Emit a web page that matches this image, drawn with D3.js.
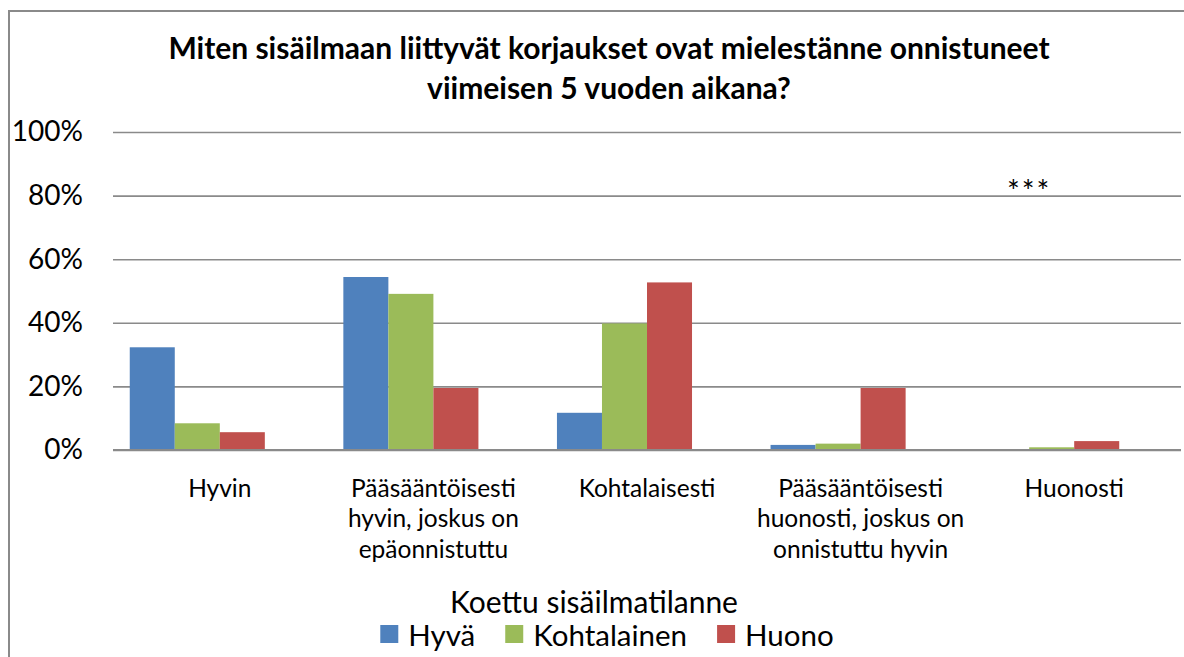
<!DOCTYPE html>
<html>
<head>
<meta charset="utf-8">
<script src="https://cdn.jsdelivr.net/npm/d3@7.9.0/dist/d3.min.js"></script>
<style>
    body { margin: 0; background: #fff; }
    text { font-family: Lato, "Open Sans", sans-serif; fill: #000; }
</style>
</head>
<body>
<div id="chart"></div>
<script>
// Data (shares, 0..1)
const categories = ["Hyvin", "Pääsääntöisesti hyvin, joskus on epäonnistuttu", "Kohtalaisesti",
    "Pääsääntöisesti huonosti, joskus on onnistuttu hyvin", "Huonosti"];
const categoryLines = [
    ["Hyvin"],
    ["Pääsääntöisesti", "hyvin, joskus on", "epäonnistuttu"],
    ["Kohtalaisesti"],
    ["Pääsääntöisesti", "huonosti, joskus on", "onnistuttu hyvin"],
    ["Huonosti"]
];
const seriesNames = ["Hyvä", "Kohtalainen", "Huono"];
const hyva        = [0.323, 0.544, 0.117, 0.016, 0.000];
const kohtalainen = [0.084, 0.491, 0.398, 0.020, 0.0085];
const huono       = [0.056, 0.195, 0.527, 0.195, 0.028];
const yTicks = [0, 0.2, 0.4, 0.6, 0.8, 1.0];
const titleLines = ["Miten sisäilmaan liittyvät korjaukset ovat mielestänne onnistuneet",
    "viimeisen 5 vuoden aikana?"];
const legendTitle = "Koettu sisäilmatilanne";
const note = "***";          // sits above the last category
const noteValue = 0.835;

const colors = ["#4F81BD", "#9BBB59", "#C0504D"];

const W = 1184, H = 657;
const plot = { left: 113, right: 1181, top: 132, bottom: 450 };

const svg = d3.select("#chart").append("svg")
    .attr("width", W).attr("height", H);

// chart frame (the source is cropped, only top + left edge visible)
svg.append("path")
    .attr("d", `M9,${H} V11 H${W}`)
    .attr("fill", "none")
    .attr("stroke", "#8a8a8a")
    .attr("stroke-width", 2);

// title
svg.append("g").selectAll("text")
    .data(titleLines)
    .join("text")
    .attr("x", 609)
    .attr("y", (d, i) => 47 + i * 40)
    .attr("text-anchor", "middle")
    .attr("dominant-baseline", "central")
    .attr("font-weight", "bold")
    .attr("font-size", 30)
    .text(d => d);

// scales
const x = d3.scaleBand()
    .domain(categories)
    .range([plot.left, plot.right]);

// 4th slot is an empty series in the source, bars leave room for it
const xSub = d3.scaleBand()
    .domain([...seriesNames, ""])
    .range([0, x.bandwidth()])
    .paddingOuter(0.372);

const y = d3.scaleLinear()
    .domain([0, 1])
    .range([plot.bottom, plot.top]);

// gridlines + y labels
const yAxis = svg.append("g")
    .attr("transform", `translate(${plot.left},0)`)
    .call(d3.axisLeft(y)
        .tickValues(yTicks)
        .tickFormat(d3.format(".0%"))
        .tickSize(-(plot.right - plot.left))
        .tickPadding(30));
yAxis.select(".domain").remove();
yAxis.selectAll(".tick line")
    .attr("stroke", "#8a8a8a")
    .attr("stroke-width", 1.6);
yAxis.selectAll(".tick text")
    .attr("font-size", 28)
    .attr("font-family", "Lato, sans-serif")
    .attr("fill", "#000");

// bars
const series = seriesNames.map((name, i) => ({
    name,
    color: colors[i],
    values: [hyva, kohtalainen, huono][i]
}));

svg.append("g").selectAll("g")
    .data(series)
    .join("g")
    .attr("fill", s => s.color)
    .selectAll("rect")
    .data(s => s.values.map((v, j) => ({ name: s.name, cat: categories[j], v })))
    .join("rect")
    .attr("x", d => x(d.cat) + xSub(d.name))
    .attr("width", xSub.bandwidth())
    .attr("y", d => y(d.v))
    .attr("height", d => y(0) - y(d.v));

// zero axis line on top of bars
svg.append("line")
    .attr("x1", plot.left).attr("x2", plot.right)
    .attr("y1", y(0)).attr("y2", y(0))
    .attr("stroke", "#8a8a8a")
    .attr("stroke-width", 2);

// category labels (wrapped like the original)
svg.append("g").selectAll("text")
    .data(categories)
    .join("text")
    .attr("x", d => x(d) + x.bandwidth() / 2)
    .attr("y", 488)
    .attr("text-anchor", "middle")
    .attr("font-size", 24.5)
    .each(function (d, i) {
        d3.select(this).selectAll("tspan")
            .data(categoryLines[i])
            .join("tspan")
            .attr("x", x(d) + x.bandwidth() / 2)
            .attr("dy", (t, k) => k === 0 ? "0.35em" : 30.5)
            .text(t => t);
    });

// note
svg.append("text")
    .attr("x", x(categories[4]) + xSub(seriesNames[1]))
    .attr("y", y(noteValue) + 6)
    .attr("text-anchor", "middle")
    .attr("dominant-baseline", "central")
    .attr("font-size", 30)
    .attr("letter-spacing", 2)
    .text(note);

// legend
svg.append("text")
    .attr("x", 594)
    .attr("y", 601)
    .attr("text-anchor", "middle")
    .attr("dominant-baseline", "central")
    .attr("font-size", 30)
    .text(legendTitle);

const legend = svg.append("g");
const items = legend.selectAll("g")
    .data(series)
    .join("g");
items.append("rect")
    .attr("width", 18).attr("height", 18)
    .attr("y", -9)
    .attr("fill", s => s.color);
items.append("text")
    .attr("x", 28)
    .attr("dominant-baseline", "central")
    .attr("font-size", 29.5)
    .text(s => s.name);

// lay items out side by side, centred as a row
const gap = 30;
let cursor = 0;
items.each(function () {
    const g = d3.select(this);
    g.attr("transform", `translate(${cursor},0)`);
    cursor += this.getBBox().width + gap;
});
const rowWidth = cursor - gap;
legend.attr("transform", `translate(${607 - rowWidth / 2},634)`);
</script>
</body>
</html>
